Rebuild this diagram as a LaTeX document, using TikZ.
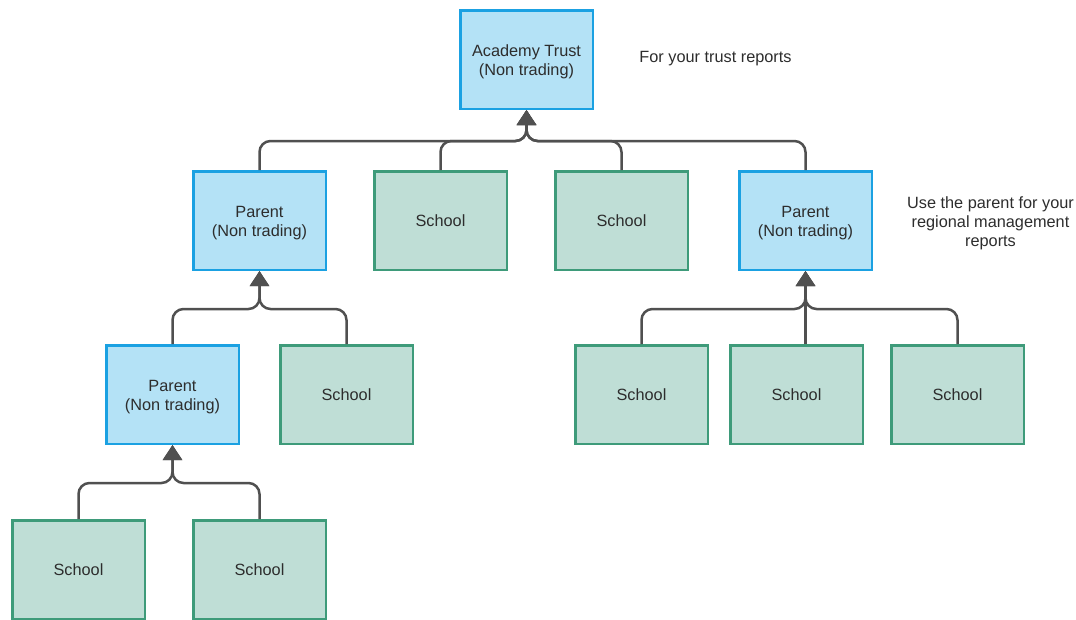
\documentclass[tikz,border=0pt]{standalone}
\usepackage{fontspec}
\setmainfont{Liberation Sans}
\usetikzlibrary{arrows.meta,calc}
\definecolor{bfill}{RGB}{180,226,246}
\definecolor{bdraw}{RGB}{27,161,226}
\definecolor{sfill}{RGB}{191,222,214}
\definecolor{sdraw}{RGB}{62,155,122}
\definecolor{lcol}{RGB}{80,80,80}
\definecolor{tcol}{RGB}{45,45,45}
\tikzset{
  box/.style={rectangle, minimum width=132.5pt, minimum height=98.5pt, line width=2.5pt,
    inner sep=0pt, align=center, text=tcol,
    font=\fontsize{16.3}{19}\selectfont},
  lbl/.style={text=tcol, align=center, inner sep=0pt, yshift=-2.5pt,
    font=\fontsize{16.3}{19}\selectfont},
  pbox/.style={box, draw=bdraw, fill=bfill, label={[lbl]center:#1}},
  sbox/.style={box, draw=sdraw, fill=sfill},
  conn/.style={draw=lcol, line width=2.5pt, rounded corners=11pt,
    -{Triangle[length=15pt,width=19pt]}},
  note/.style={text=tcol, align=center, font=\fontsize{16.3}{19}\selectfont}
}
\begin{document}
\begin{tikzpicture}[x=1pt,y=-1pt]
\useasboundingbox (0,0) rectangle (1076,619);
% nodes
\node[pbox={Academy Trust\\(Non trading)}] (trust) at (526.5,59.5) {};
\node[pbox={Parent\\(Non trading)}] (p1) at (259.5,220.5) {};
\node[sbox] (s1) at (440.5,220.5) {School};
\node[sbox] (s2) at (621.5,220.5) {School};
\node[pbox={Parent\\(Non trading)}] (p2) at (805.5,220.5) {};
\node[pbox={Parent\\(Non trading)}] (p3) at (172.5,394.5) {};
\node[sbox] (s3) at (346.5,394.5) {School};
\node[sbox] (s4) at (641.5,394.5) {School};
\node[sbox] (s5) at (796.5,394.5) {School};
\node[sbox] (s6) at (957.5,394.5) {School};
\node[sbox] (s7) at (78.5,569.5) {School};
\node[sbox] (s8) at (259.5,569.5) {School};
\node[note] (n1) at (715.5,58.5) {For your trust reports};
\node[note] (n2) at (990.5,223) {Use the parent for your\\regional management\\reports};
% connectors to trust
\foreach \c in {p1,s1,s2,p2}
  \draw[conn] (\c.north) |- ($(trust.south)+(0,31)$) -- (trust.south);
% connectors to p1
\foreach \c in {p3,s3}
  \draw[conn] (\c.north) |- ($(p1.south)+(0,38)$) -- (p1.south);
% connectors to p3
\foreach \c in {s7,s8}
  \draw[conn] (\c.north) |- ($(p3.south)+(0,38)$) -- (p3.south);
% connectors to p2
\foreach \c in {s4,s6}
  \draw[conn] (\c.north) |- ($(p2.south)+(0,38)$) -- (p2.south);
\draw[conn] (s5.north -| p2.south) -- (p2.south);
\end{tikzpicture}
\end{document}
